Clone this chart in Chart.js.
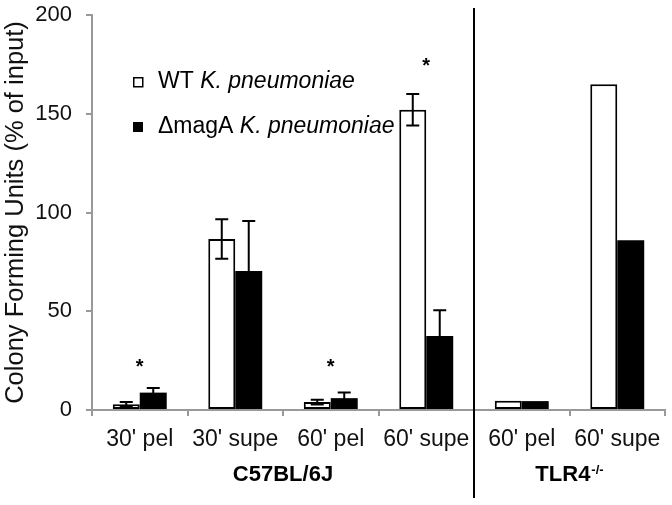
<!DOCTYPE html>
<html>
<head>
<meta charset="utf-8">
<script src="https://cdn.jsdelivr.net/npm/chart.js@4/dist/chart.umd.min.js"></script>
<style>
  html, body { margin: 0; padding: 0; background: #fff; }
  #wrap { width: 672px; height: 505px; }
</style>
</head>
<body>
<div id="wrap"><canvas id="cfu-chart" width="672" height="505"></canvas></div>
<script>
// data
const categories = ["30' pel", "30' supe", "60' pel", "60' supe", "60' pel", "60' supe"];
const wtValues = [2.9, 86.6, 4, 152, 4.7, 165];
const wtErrors = [1.1, 10, 1.2, 8, null, null];
const magaValues = [8.8, 70.4, 6, 37.5, 4.5, 86];
const magaErrors = [2.3, 25.3, 2.8, 13, null, null];
const yTicks = [0, 50, 100, 150, 200];

// significance stars: [category index, y value]
const stars = [[0, 25], [2, 25], [3, 177]];

// strains: [label, first category, last category]
const strainGroups = [['C57BL/6J', 0, 3], ['TLR4', 4, 5]];

const FONT = "'Liberation Sans', Arial, sans-serif";

const extras = {
    id: 'extras',
    afterDatasetsDraw(chart) {
        const ctx = chart.ctx;
        const x = chart.scales.x;
        const y = chart.scales.y;
        const area = chart.chartArea;

        // error bars
        ctx.save();
        ctx.strokeStyle = '#000';
        ctx.lineWidth = 2;
        [wtErrors, magaErrors].forEach((errs, di) => {
            const meta = chart.getDatasetMeta(di);
            const vals = chart.data.datasets[di].data;
            errs.forEach((e, i) => {
                if (e == null) return;
                const bx = meta.data[i].x;
                const top = y.getPixelForValue(vals[i] + e);
                const bot = y.getPixelForValue(vals[i] - e);
                ctx.beginPath();
                ctx.moveTo(bx, top); ctx.lineTo(bx, bot);
                ctx.moveTo(bx - 6.5, top); ctx.lineTo(bx + 6.5, top);
                ctx.moveTo(bx - 6.5, bot); ctx.lineTo(bx + 6.5, bot);
                ctx.stroke();
            });
        });

        // stars
        ctx.fillStyle = '#000';
        ctx.font = 'bold 20px ' + FONT;
        ctx.textAlign = 'center';
        ctx.textBaseline = 'alphabetic';
        stars.forEach(([i, v]) => {
            ctx.fillText('*', x.getPixelForValue(i), y.getPixelForValue(v) + 12);
        });

        // divider between strains
        const divX = (x.getPixelForValue(3) + x.getPixelForValue(4)) / 2;
        ctx.beginPath();
        ctx.lineWidth = 2;
        ctx.moveTo(divX, 8);
        ctx.lineTo(divX, 498);
        ctx.stroke();

        // strain labels
        strainGroups.forEach(([label, a, b]) => {
            const cx = (x.getPixelForValue(a) + x.getPixelForValue(b)) / 2;
            ctx.textAlign = 'left';
            ctx.font = 'bold 22px ' + FONT;
            const w1 = ctx.measureText(label).width;
            let w2 = 0;
            if (label === 'TLR4') {
                ctx.font = 'bold 13px ' + FONT;
                w2 = ctx.measureText('-/-').width + 1;
            }
            const sx = cx - (w1 + w2) / 2;
            ctx.font = 'bold 22px ' + FONT;
            ctx.fillText(label, sx, area.bottom + 71);
            if (w2) {
                ctx.font = 'bold 13px ' + FONT;
                ctx.fillText('-/-', sx + w1 + 1, area.bottom + 64);
            }
        });

        // legend
        const lx = area.left + 41;
        ctx.lineWidth = 1.5;
        ctx.strokeRect(lx + 0.75, area.top + 62.75, 9, 9);
        ctx.fillRect(lx, area.top + 107, 10, 10);
        const rows = [['WT ', area.top + 73], ['\u0394magA ', area.top + 118]];
        rows.forEach(([lead, base]) => {
            ctx.font = '23px ' + FONT;
            ctx.fillText(lead, lx + 25, base);
            const w = ctx.measureText(lead).width;
            ctx.font = 'italic 23px ' + FONT;
            ctx.fillText('K. pneumoniae', lx + 25 + w, base);
        });
        ctx.restore();
    }
};

const ctxCfu = document.getElementById('cfu-chart').getContext('2d');

new Chart(ctxCfu, {
    type: 'bar',
    data: {
        labels: categories,
        datasets: [{
            label: 'WT K. pneumoniae',
            data: wtValues,
            backgroundColor: '#fff',
            borderColor: '#000',
            borderWidth: 2,
            borderSkipped: false
        }, {
            label: '\u0394magA K. pneumoniae',
            data: magaValues,
            backgroundColor: '#000',
            borderWidth: 0
        }]
    },
    options: {
        responsive: false,
        animation: false,
        layout: { padding: { top: 15, right: 7, left: 0, bottom: 0 } },
        datasets: { bar: { categoryPercentage: 0.565, barPercentage: 1 } },
        plugins: {
            legend: { display: false },
            tooltip: { enabled: false }
        },
        scales: {
            x: {
                afterFit: axis => {
                    axis.height = 95;
                    axis.paddingLeft = 0;
                    axis.paddingRight = 0;
                },
                grid: {
                    offset: true,
                    drawOnChartArea: false,
                    drawTicks: true,
                    tickLength: 6,
                    color: '#999',
                    lineWidth: 2
                },
                border: { display: true, color: '#999', width: 2 },
                ticks: {
                    padding: 10,
                    color: '#111',
                    font: { family: FONT, size: 23 }
                }
            },
            y: {
                min: 0,
                max: 200,
                afterFit: axis => {
                    axis.width = 92;
                    axis.paddingTop = 0;
                    axis.paddingBottom = 0;
                },
                afterBuildTicks: axis => { axis.ticks = yTicks.map(v => ({ value: v })); },
                grid: {
                    drawOnChartArea: false,
                    drawTicks: true,
                    tickLength: 6,
                    color: '#999',
                    lineWidth: 2
                },
                border: { display: true, color: '#999', width: 2 },
                ticks: {
                    padding: 14,
                    color: '#111',
                    font: { family: FONT, size: 22 }
                },
                title: {
                    display: true,
                    text: 'Colony Forming Units (% of input)',
                    color: '#111',
                    font: { family: FONT, size: 25.5 },
                    padding: { top: 1, bottom: 0 }
                }
            }
        }
    },
    plugins: [extras]
});
</script>
</body>
</html>
